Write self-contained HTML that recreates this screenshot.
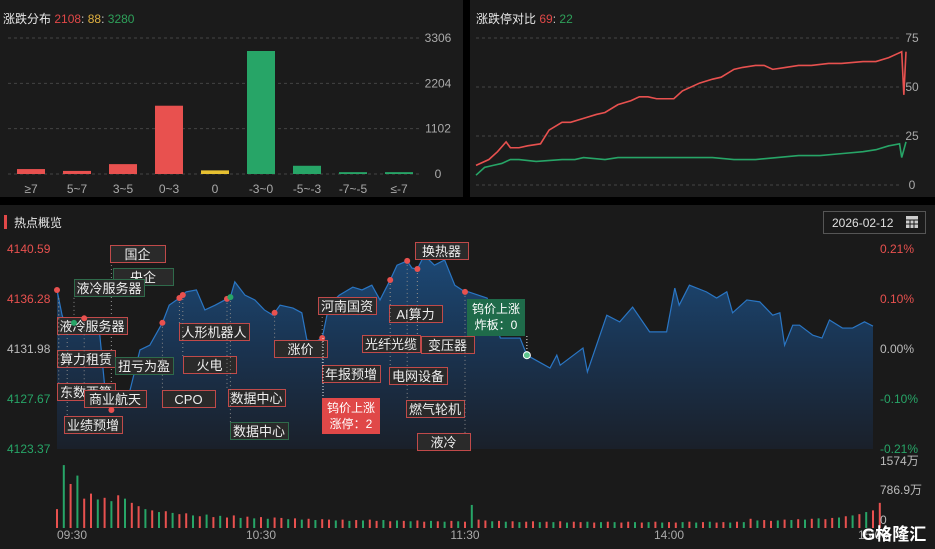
<!DOCTYPE html>
<html><head><meta charset="utf-8"><style>
html,body{margin:0;padding:0;background:#000;width:935px;height:549px;overflow:hidden;font-family:"Liberation Sans","Noto Sans CJK SC",sans-serif}
svg{display:block}
text{font-family:"Liberation Sans","Noto Sans CJK SC",sans-serif}
</style></head><body>
<svg id="s" width="935" height="549" xmlns="http://www.w3.org/2000/svg">
<defs>
<linearGradient id="ag" gradientUnits="userSpaceOnUse" x1="0" y1="249" x2="0" y2="449">
<stop offset="0" stop-color="#1c4a78"/><stop offset="0.5" stop-color="#1a3350"/><stop offset="1" stop-color="#1a202a"/>
</linearGradient>
</defs>
<rect x="0" y="0" width="463" height="197" fill="#1b1b1b"/>
<rect x="470" y="0" width="465" height="197" fill="#1b1b1b"/>
<rect x="0" y="205" width="935" height="344" fill="#1a1a1a"/>
<text x="3" y="23" font-size="12" fill="#e8e8e8">涨跌分布 <tspan fill="#e04848">2108</tspan><tspan fill="#ccc">:</tspan> <tspan fill="#e0b040">88</tspan><tspan fill="#ccc">:</tspan> <tspan fill="#2ea05a">3280</tspan></text>
<text x="476" y="23" font-size="12" fill="#e8e8e8">涨跌停对比 <tspan fill="#e04848">69</tspan><tspan fill="#ccc">:</tspan> <tspan fill="#2ea05a">22</tspan></text>
<rect x="4" y="215" width="3" height="14" fill="#e04848"/>
<text x="14" y="227" font-size="12" fill="#e8e8e8">热点概览</text>
<g>
<rect x="823.5" y="211.5" width="102" height="22" fill="#1a1a1a" stroke="#555"/>
<text x="832" y="227" font-size="12" fill="#e0e0e0">2026-02-12</text>
<rect x="906" y="216" width="12" height="12" fill="#ccc"/>
<path d="M906 220h12M910 220v8M914 220v8M906 224h12" stroke="#1a1a1a" stroke-width="1"/>
</g>
<g id="g1"></g><g id="g2"></g><g id="g3"></g>
<text x="862" y="540" font-size="17" font-weight="bold" fill="#fff">G格隆汇</text>
</svg>
<script>
var NS="http://www.w3.org/2000/svg";
// ---- distribution chart data ----
var distCats=["≥7","5~7","3~5","0~3","0","-3~0","-5~-3","-7~-5","≤-7"];
var distVals=[120,75,240,1660,88,2990,200,45,45];
var distColors=["r","r","r","r","y","g","g","g","g"];
var distTicks=[0,1102,2204,3306];
// ---- limit up/down chart data ----
var limProgress=[0,3,5,7,8,10,12,15,17,20,22,25,28,30,33,36,38,40,42,44,46,48,52,55,57,60,62,65,67,69,72,75,78,82,85,90,93,96,98,99,99.5,100];
var limUp=[10,13,17,22,19,19,20,21,28,32,32,34,36,37,41,43,45,45,44,44,44,48,52,54,55,59,60,61,61,59,60,61,61,62,62,63,63,65,67,68,46,68];
var limDnProgress=[0,2,4,6,8,10,14,20,23,25,30,33,40,50,55,60,65,70,75,80,85,90,93,96,98.5,99,100];
var limDown=[5,9,10,11,13,13,12,13,13,14,13,14,14,14,14,13,13,14,15,15,16,17,18,20,21,14,22];
var limTicks=[0,25,50,75];
// ---- intraday index data (pct change vs prev close) ----
var prevClose=4131.98;
var priceMin=[0,1.5,3,5.3,8.2,11,12.6,14,16,18.5,21.5,24.4,27.3,31,33,36,38,41,43.5,46.5,49.4,51,52.3,55.3,58.2,61,63.5,65.6,69.4,72,73.5,76,78,80,83,87,89.7,92.6,95,98,100,103,104.4,106,108,111,114,117,120,121,126.5,130.4,136.2,138.2,145,147,148,154.7,156,161.7,165.5,169.3,174.3,179.3,181.7,183,186,191,194,197,198.7,202.9,206.7,210.5,212.6,214,216.4,218.4,222.3,225,227.2,231,234,237.5,240];
var pricePct=[0.124,0.071,0.040,0.057,0.065,0.050,0.029,-0.076,-0.128,-0.107,-0.086,-0.002,0.008,0.055,0.092,0.107,0.120,0.124,0.082,0.092,0.103,0.109,0.141,0.113,0.103,0.082,0.071,0.092,0.086,0.076,0.019,0.015,0.023,0.092,0.113,0.130,0.124,0.134,0.103,0.145,0.176,0.185,0.170,0.168,0.197,0.176,0.187,0.134,0.120,0.120,0.107,0.023,0.023,-0.013,-0.040,-0.013,-0.034,0.002,-0.048,0.071,0.057,0.088,0.036,0.036,0.128,0.092,0.134,0.120,0.107,0.120,0.076,0.103,0.099,0.071,0.076,0.008,0.050,0.050,0.029,0.023,0.061,0.044,0.044,0.057,0.048];
var priceTicks=["4140.59","4136.28","4131.98","4127.67","4123.37"];
var pctTicks=["0.21%","0.10%","0.00%","-0.10%","-0.21%"];
var timeTicks=["09:30","10:30","11:30","14:00","15:00"];
var timeTickMin=[0,60,120,180,240];
// ---- volume data (万, every 2 minutes) ----
var volVals=[450,1500,1050,1250,700,820,680,720,640,780,700,600,520,450,420,380,400,360,330,350,300,280,320,260,290,250,300,240,270,230,260,220,250,240,210,230,200,220,190,210,200,180,200,170,190,180,200,170,190,160,180,170,160,180,150,170,160,150,170,160,150,550,200,180,160,170,150,160,140,150,160,140,150,140,160,130,150,140,150,130,140,150,140,130,150,140,130,140,150,130,140,130,140,150,130,140,150,130,140,130,150,140,220,180,190,170,180,200,190,210,200,220,230,210,240,250,280,300,330,380,420,600];
var volDir="rgrgrrgrgrgrrgrgrgrrgrgrgrrgrgrgrrgrgrgrrgrgrgrrgrgrgrrgrgrgrgrrgrgrgrrgrgrgrrgrgrgrrgrgrgrrgrgrgrrgrgrgrrgrgrgrgrrgrgrg".split("");
var volTicks=["1574万","786.9万","0"];
// ---- annotations ----
var annNames=["国企","央企","液冷服务器","液冷服务器","算力租赁","扭亏为盈","东数西算","商业航天","业绩预增","CPO","人形机器人","火电","数据中心","数据中心","涨价","河南国资","年报预增","换热器","AI算力","光纤光缆","变压器","电网设备","燃气轮机","液冷"];
var annMin=[16,16,5,0.5,0.5,16,0.5,8,3,31,36,37,50,51,64,78,78,103,98,106,106,98,103,120];
var annColor=["r","g","g","r","r","g","r","r","r","r","r","r","r","g","r","r","r","r","r","r","r","r","r","r"];
var annBox=[[110,245,55],[113,268,60],[74,279,70],[57,317,70],[57,350,58],[115,357,58],[57,383,58],[84,390,62],[64,416,58],[162,390,53],[179,323,70],[183,356,53],[228,389,57],[230,422,58],[274,340,53],[318,297,58],[322,365,58],[415,242,53],[389,305,53],[362,335,58],[421,336,53],[389,367,58],[406,400,58],[417,433,53]];

var C={r:"#e8514f",g:"#27a567",y:"#e6c031"};
function el(tag,attrs,parent,txt){var e=document.createElementNS(NS,tag);for(var k in attrs)e.setAttribute(k,attrs[k]);if(txt!==undefined)e.textContent=txt;parent.appendChild(e);return e;}
var g1=document.getElementById("g1"),g2=document.getElementById("g2"),g3=document.getElementById("g3");

// distribution chart
var dY=function(v){return 174-v/3306*136;};
var dX=function(i){return 31+i*46;};
distTicks.forEach(function(t){
 var l=el("line",{x1:8,x2:420,y1:dY(t),y2:dY(t),stroke:"#444","stroke-dasharray":"3,3"},g1);
 
 
 var tx=el("text",{x:438,y:dY(t)+4,"font-size":12,fill:"#aaa","text-anchor":"middle"},g1,String(t));
 
 
});
distVals.forEach(function(v,i){
 var r=el("rect",{x:dX(i)-14,y:dY(v),width:28,height:174-dY(v),fill:C[distColors[i]]},g1);
 
 
 var t=el("text",{x:dX(i),y:193,"font-size":12,fill:"#aaa","text-anchor":"middle"},g1,distCats[i]);
 
 
});

// limit chart
var lY=function(v){return 185-v/75*147;};
var lX=function(p){return 476+p/100*430;};
limTicks.forEach(function(t){
 var l=el("line",{x1:476,x2:900,y1:lY(t),y2:lY(t),stroke:"#444","stroke-dasharray":"3,3"},g1);
 
 
 var tx=el("text",{x:912,y:lY(t)+4,"font-size":12,fill:"#aaa","text-anchor":"middle"},g1,String(t));
 
 
});
var up=el("polyline",{points:limUp.map(function(v,i){return lX(limProgress[i])+","+lY(v);}).join(" "),fill:"none",stroke:"#e8514f","stroke-width":1.6},g1);


var dn=el("polyline",{points:limDown.map(function(v,i){return lX(limDnProgress[i])+","+lY(v);}).join(" "),fill:"none",stroke:"#27a567","stroke-width":1.6},g1);



// intraday chart
var mX=function(m){return 57+m*3.4;};
var pY=function(p){return 349-p/0.21*100;};
var pts=pricePct.map(function(p,i){return mX(priceMin[i])+","+pY(p);});
var ar=el("polygon",{points:mX(0)+",449 "+pts.join(" ")+" "+mX(240)+",449",fill:"url(#ag)"},g2);


var ln=el("polyline",{points:pts.join(" "),fill:"none",stroke:"#2a76c4","stroke-width":1.2},g2);


var tickCol=["#e8514f","#e8514f","#bbb","#27a567","#27a567"];
priceTicks.forEach(function(t,i){
 var y=249+i*50;
 var a=el("text",{x:7,y:y+4,"font-size":12,fill:tickCol[i]},g2,t);
 
 
 var b=el("text",{x:880,y:y+4,"font-size":12,fill:tickCol[i]},g2,pctTicks[i]);
 
 
});
timeTicks.forEach(function(t,i){
 var a=el("text",{x:mX(timeTickMin[i])+(i==0?15:0),y:539,"font-size":12,fill:"#aaa","text-anchor":"middle"},g2,t);
 
 
});
// volume
var vY=function(v){return 528-v/1574*66;};
volVals.forEach(function(v,i){
 var r=el("rect",{x:mX(i*2)-1,y:vY(v),width:2,height:528-vY(v),fill:volDir[i]=="g"?"#27a567":"#e8514f"},g2);
 
 
});
[[volTicks[0],465],[volTicks[1],494],[volTicks[2],524]].forEach(function(a){
 var t=el("text",{x:880,y:a[1],"font-size":12,fill:"#bbb"},g2,a[0]);
 
 
});

// annotations
function priceAt(m){for(var i=1;i<priceMin.length;i++){if(priceMin[i]>=m){var f=(m-priceMin[i-1])/(priceMin[i]-priceMin[i-1]);return pricePct[i-1]+f*(pricePct[i]-pricePct[i-1]);}}return pricePct[pricePct.length-1];}
annNames.forEach(function(n,i){
 var b=annBox[i],x=mX(annMin[i]),y=pY(priceAt(annMin[i]));
 var by=b[1]>y?b[1]:b[1]+17;
 var d=el("line",{x1:x,x2:x,y1:y,y2:by,stroke:"#888","stroke-dasharray":"1,3"},g3);
 
 
 var r=el("rect",{x:b[0]+0.5,y:b[1]+0.5,width:b[2],height:17,fill:"#2a2a2a",stroke:annColor[i]=="g"?"#2f6b4b":"#c04a4a"},g3);
 
 
 var t=el("text",{x:b[0]+b[2]/2,y:b[1]+14,"font-size":13,fill:"#eee","text-anchor":"middle"},g3,n);
 
 
});
var dotMin=[0,5,8,16,31,36,37,50,51,64,78,98,103,106,120];
var dotCol=["r","g","r","r","r","r","r","r","g","r","r","r","r","r","r"];
dotMin.forEach(function(m,i){
 var c=el("circle",{cx:mX(m),cy:pY(priceAt(m)),r:3,fill:C[dotCol[i]]},g3);
 
 
});
// special callouts
var s1=el("line",{x1:323,x2:323,y1:pY(priceAt(78)),y2:398,stroke:"#eee","stroke-dasharray":"1,2"},g3);


var c1=el("rect",{x:322,y:398,width:58,height:36,fill:"#e04848"},g3);


var c1t=el("text",{x:351,y:412,"font-size":12,fill:"#fff","text-anchor":"middle"},g3,"钨价上涨");


var c1u=el("text",{x:351,y:428,"font-size":12,fill:"#fff","text-anchor":"middle"},g3,"涨停：2");


var m2=138.2;
var s2=el("line",{x1:mX(m2),x2:mX(m2),y1:336,y2:pY(priceAt(m2)),stroke:"#eee","stroke-dasharray":"1,2"},g3);


var c2=el("rect",{x:467,y:299,width:58,height:37,fill:"#1f6b4a"},g3);


var c2t=el("text",{x:496,y:313,"font-size":12,fill:"#fff","text-anchor":"middle"},g3,"钨价上涨");


var c2u=el("text",{x:496,y:329,"font-size":12,fill:"#fff","text-anchor":"middle"},g3,"炸板：0");


var c2d=el("circle",{cx:mX(m2),cy:pY(priceAt(m2)),r:3.5,fill:"#5fc48e",stroke:"#fff","stroke-width":1},g3);


</script>
</body></html>
